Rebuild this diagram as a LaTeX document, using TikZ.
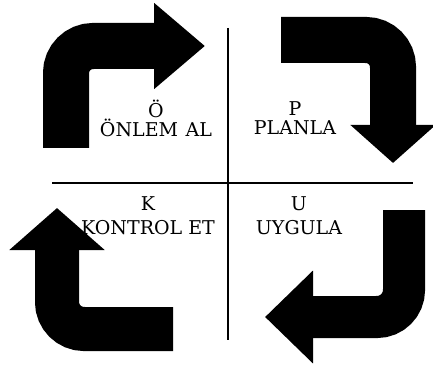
\documentclass[tikz,border=0pt]{standalone}
\usepackage{fontspec}
\setmainfont{DejaVu Serif}
\usetikzlibrary{arrows.meta}
\definecolor{ink}{HTML}{000000}

\begin{document}
\begin{tikzpicture}[
  x=1pt, y=-1pt,
  lbl/.style={font=\fontsize{19}{19}\selectfont, text=ink, align=center, inner sep=0pt},
  lblb/.style={lbl, font=\fontsize{19}{24}\selectfont},
  divider/.style={draw=ink, line width=1.6pt},
  turn/.style={draw=ink, line width=46pt, rounded corners=27pt}
]
\useasboundingbox (0,0) rectangle (433,374);

% ---------- Eksenler ----------
\coordinate (vtop) at (228,28);
\coordinate (vbot) at (228,340);
\coordinate (hleft) at (52,183);
\coordinate (hright) at (413,183);
\draw[divider] (vtop) -- (vbot);
\draw[divider] (hleft) -- (hright);

% ---------- Oklar ----------
% sol ust: yukari, saga
\draw[turn, -{Triangle[length=51pt, width=83pt]}] (66,148) -- (66,46) -- (205,46);
% sag ust: saga, asagi
\draw[turn, -{Triangle[length=38pt, width=83pt]}] (281,40) -- (393,40) -- (393,163);
% sag alt: asagi, sola
\draw[turn, line width=42pt, -{Triangle[length=48pt, width=90pt]}] (404,210) -- (404,317) -- (265,317);
% sol alt: sola, yukari
\draw[turn, line width=44pt, -{Triangle[length=42pt, width=93pt]}] (173,329) -- (57,329) -- (57,208);

% ---------- Etiketler ----------
\node[lbl] (onlem) at (156,118) {Ö\\ÖNLEM\hspace{0.4em}AL};
\node[lbl] (planla) at (295,118) {P\\PLANLA};
\node[lblb] (kontrol) at (148,216) {K\\KONTROL ET};
\node[lblb] (uygula) at (299,216) {U\\UYGULA};

\end{tikzpicture}
\end{document}
